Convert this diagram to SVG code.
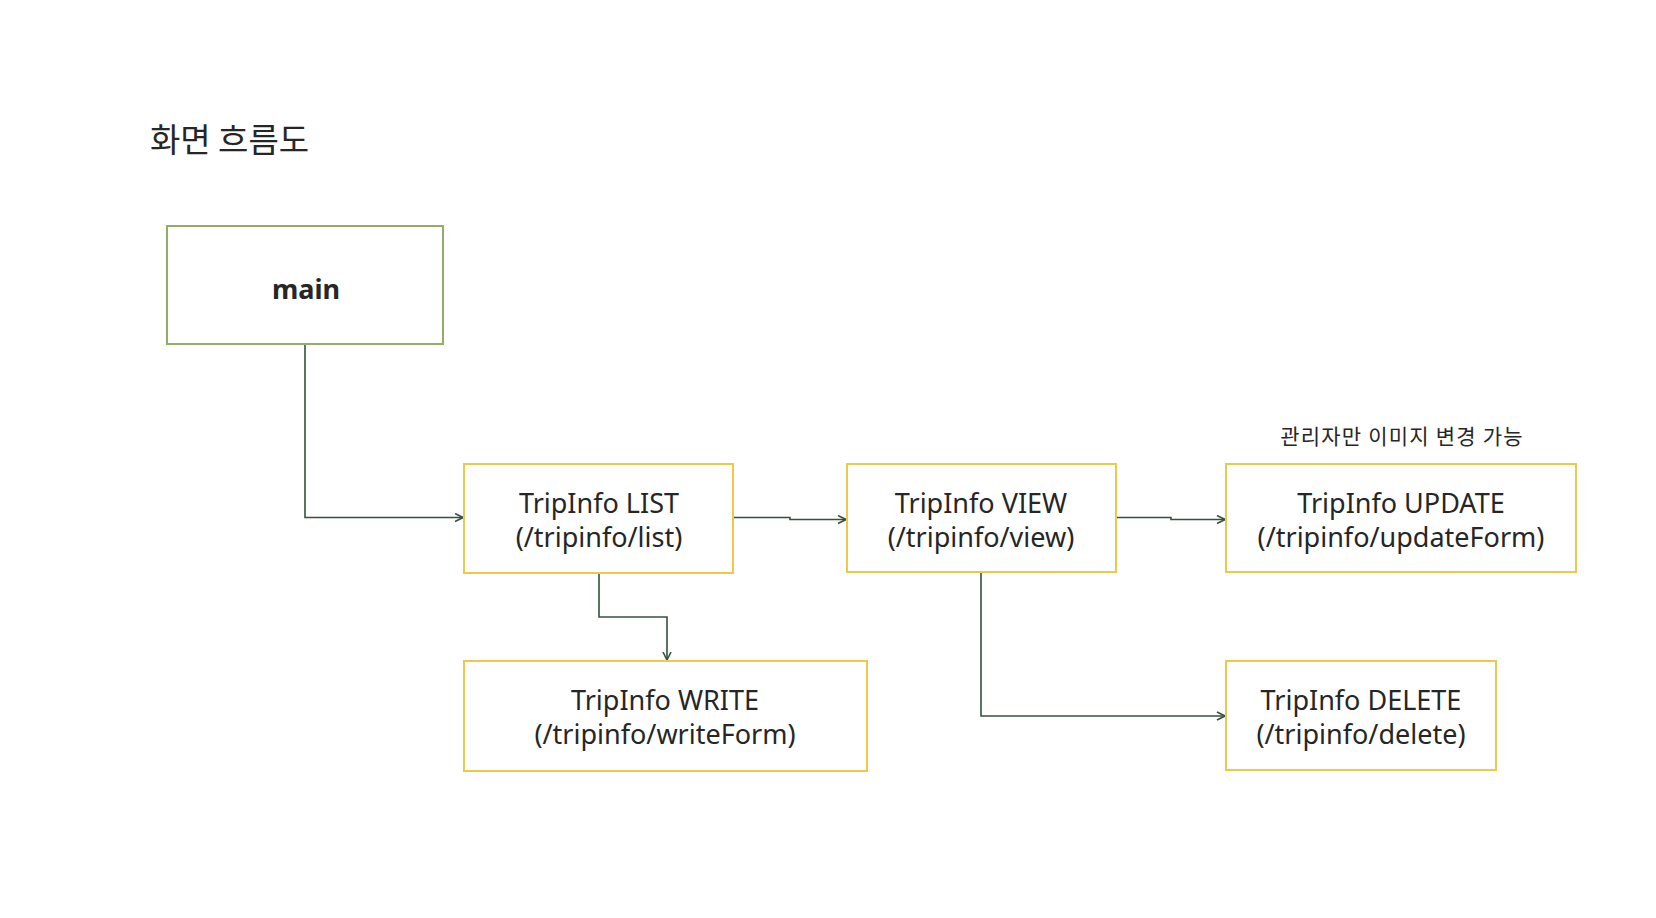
<svg xmlns="http://www.w3.org/2000/svg" width="1656" height="918" viewBox="0 0 1656 918">
<defs>
<style>
.box{fill:#ffffff;stroke:#ecc94b;stroke-width:2}
.gbox{fill:#ffffff;stroke:#93ad68;stroke-width:2}
.t{font-family:"Noto Sans","Noto Sans CJK KR",sans-serif;font-size:27px;fill:#262626;text-anchor:middle}
.k{font-family:"Noto Sans CJK KR",sans-serif;fill:#262626}
.c{fill:none;stroke:#34523f;stroke-width:1.6}
</style>
<marker id="ah" viewBox="0 0 10 10" refX="9" refY="5" markerWidth="10" markerHeight="10" markerUnits="userSpaceOnUse" orient="auto">
<path d="M1,1 L9,5 L1,9" fill="none" stroke="#34523f" stroke-width="1.6"/>
</marker>
</defs>
<rect width="1656" height="918" fill="#ffffff"/>
<text x="150" y="152" class="k" font-size="33">화면 흐름도</text>
<g id="connectors">
<path class="c" d="M305,345 V517.5 H463" marker-end="url(#ah)"/>
<path class="c" d="M733,517.5 H790 V519.5 H846" marker-end="url(#ah)"/>
<path class="c" d="M1116,517.5 H1171 V519.5 H1225" marker-end="url(#ah)"/>
<path class="c" d="M599,573 V617 H667 V660" marker-end="url(#ah)"/>
<path class="c" d="M981,573 V716 H1225" marker-end="url(#ah)"/>
</g>
<g id="main">
<rect class="gbox" x="167" y="226" width="276" height="118"/>
<text x="306" y="299" class="t" font-size="30" font-weight="bold">main</text>
</g>
<g id="list">
<rect class="box" x="464" y="464" width="269" height="109"/>
<text x="599" y="513" class="t">TripInfo LIST</text>
<text x="599" y="547" class="t">(/tripinfo/list)</text>
</g>
<g id="view">
<rect class="box" x="847" y="464" width="269" height="108"/>
<text x="981" y="513" class="t">TripInfo VIEW</text>
<text x="981" y="547" class="t">(/tripinfo/view)</text>
</g>
<g id="update">
<text x="1402" y="444" class="k" font-size="21" letter-spacing="1.2" text-anchor="middle">관리자만 이미지 변경 가능</text>
<rect class="box" x="1226" y="464" width="350" height="108"/>
<text x="1401" y="513" class="t">TripInfo UPDATE</text>
<text x="1401" y="547" class="t">(/tripinfo/updateForm)</text>
</g>
<g id="write">
<rect class="box" x="464" y="661" width="403" height="110"/>
<text x="665" y="710" class="t">TripInfo WRITE</text>
<text x="665" y="744" class="t">(/tripinfo/writeForm)</text>
</g>
<g id="delete">
<rect class="box" x="1226" y="661" width="270" height="109"/>
<text x="1361" y="710" class="t">TripInfo DELETE</text>
<text x="1361" y="744" class="t">(/tripinfo/delete)</text>
</g>
</svg>
